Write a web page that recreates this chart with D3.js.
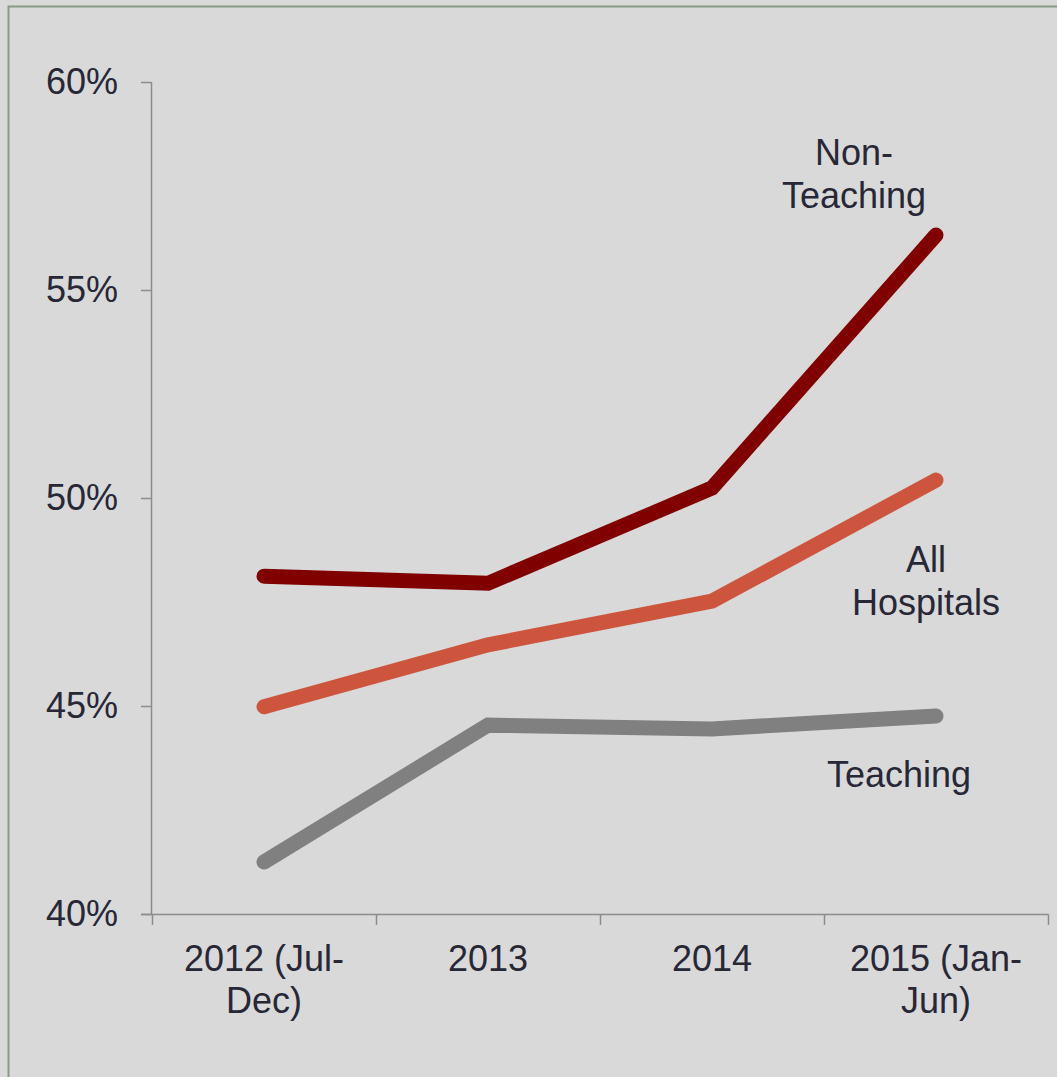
<!DOCTYPE html>
<html>
<head>
<meta charset="utf-8">
<script src="https://cdn.jsdelivr.net/npm/d3@7"></script>
<style>
  html, body { margin: 0; padding: 0; background: #d9d9d9; overflow: hidden; }
  svg { display: block; font-family: "Liberation Sans", Arial, sans-serif; }
</style>
</head>
<body>
<svg id="chart" width="1057" height="1077"></svg>
<script>
const categories = ["2012 (Jul-Dec)", "2013", "2014", "2015 (Jan-Jun)"];
const categoryLines = [["2012 (Jul-", "Dec)"], ["2013"], ["2014"], ["2015 (Jan-", "Jun)"]];
const yTicks = [40, 45, 50, 55, 60];

const nonTeaching = [48.12, 47.95, 50.24, 56.32];
const allHospitals = [44.98, 46.47, 47.52, 50.43];
const teaching = [41.25, 44.54, 44.45, 44.76];

const series = [
  { name: "Non-Teaching", values: nonTeaching, color: "#800000", label: ["Non-", "Teaching"], lx: 854, ly: 165 },
  { name: "All Hospitals", values: allHospitals, color: "#cd553d", label: ["All", "Hospitals"], lx: 926, ly: 572 },
  { name: "Teaching", values: teaching, color: "#808080", label: ["Teaching"], lx: 899, ly: 787 },
];

const textColor = "#272736";
const axisColor = "#8c8c8c";

const svg = d3.select("#chart");

// frame (only top and left edges are visible in the picture)
svg.append("rect")
  .attr("x", 8.5)
  .attr("y", 6.5)
  .attr("width", 1200)
  .attr("height", 1200)
  .attr("fill", "#d9d9d9")
  .attr("stroke", "#889a88")
  .attr("stroke-width", 2);

const x = d3.scaleBand().domain(categories).range([152, 1048]);
const y = d3.scaleLinear().domain([40, 60]).range([914, 82]);

// y axis
const yAxis = svg.append("g");
yAxis.append("line")
  .attr("x1", 151.5).attr("x2", 151.5)
  .attr("y1", y(60)).attr("y2", y(40))
  .attr("stroke", axisColor).attr("stroke-width", 1.5);

yAxis.selectAll(".ytick")
  .data(yTicks)
  .join("line")
  .attr("class", "ytick")
  .attr("x1", 141).attr("x2", 151.5)
  .attr("y1", d => y(d) + 0.5).attr("y2", d => y(d) + 0.5)
  .attr("stroke", axisColor).attr("stroke-width", 1.5);

yAxis.selectAll(".ylabel")
  .data(yTicks)
  .join("text")
  .attr("class", "ylabel")
  .attr("x", 118)
  .attr("y", d => y(d) + 12)
  .attr("text-anchor", "end")
  .attr("fill", textColor)
  .style("font-size", "36px")
  .text(d => d + "%");

// x axis
const xAxis = svg.append("g");
xAxis.append("line")
  .attr("x1", 141).attr("x2", 1048.5)
  .attr("y1", 914.5).attr("y2", 914.5)
  .attr("stroke", axisColor).attr("stroke-width", 1.5);

const bounds = categories.map(c => x(c)).concat([x.range()[1]]);
xAxis.selectAll(".xtick")
  .data(bounds)
  .join("line")
  .attr("class", "xtick")
  .attr("x1", d => d + 0.5).attr("x2", d => d + 0.5)
  .attr("y1", 914.5).attr("y2", 925)
  .attr("stroke", axisColor).attr("stroke-width", 1.5);

xAxis.selectAll(".xlabel")
  .data(categories)
  .join("text")
  .attr("class", "xlabel")
  .attr("text-anchor", "middle")
  .attr("fill", textColor)
  .style("font-size", "36px")
  .each(function (d, i) {
    const cx = x(d) + x.bandwidth() / 2;
    d3.select(this).selectAll("tspan")
      .data(categoryLines[i])
      .join("tspan")
      .attr("x", cx)
      .attr("y", (_, j) => 971 + j * 42)
      .text(t => t);
  });

// lines
const line = d3.line()
  .x((d, i) => x(categories[i]) + x.bandwidth() / 2)
  .y(d => y(d));

svg.append("g")
  .selectAll("path")
  .data(series)
  .join("path")
  .attr("d", d => line(d.values))
  .attr("fill", "none")
  .attr("stroke", d => d.color)
  .attr("stroke-width", 15)
  .attr("stroke-linecap", "round")
  .attr("stroke-linejoin", "miter");

// series labels
svg.append("g")
  .selectAll("text")
  .data(series)
  .join("text")
  .attr("text-anchor", "middle")
  .attr("fill", textColor)
  .style("font-size", "36px")
  .each(function (d) {
    d3.select(this).selectAll("tspan")
      .data(d.label)
      .join("tspan")
      .attr("x", d.lx)
      .attr("y", (_, j) => d.ly + j * 43)
      .text(t => t);
  });
</script>
</body>
</html>
